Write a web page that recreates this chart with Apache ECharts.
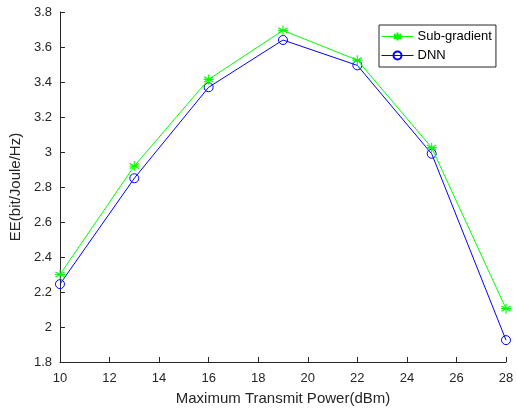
<!DOCTYPE html>
<html>
<head>
<meta charset="utf-8">
<script src="https://cdn.jsdelivr.net/npm/echarts@6/dist/echarts.min.js"></script>
<style>html,body{margin:0;padding:0;background:#fff}#c{width:517px;height:411px}</style>
</head>
<body>
<div id="c"></div>
<script>
const xValues = [10, 13, 16, 19, 22, 25, 28];
const subGradient = [2.30, 2.92, 3.415, 3.695, 3.525, 3.025, 2.105];
const dnn = [2.245, 2.85, 3.37, 3.64, 3.495, 2.99, 1.925];
const seriesNames = ['Sub-gradient', 'DNN'];
const xLabel = 'Maximum Transmit Power(dBm)';
const yLabel = 'EE(bit/Joule/Hz)';

const star = 'path://M0,-5L0,5M-4.6,-2.6L4.6,2.6M-4.6,2.6L4.6,-2.6M-5,0L5,0';
const font = 'Liberation Sans';
const axisColor = '#262626';

const chart = echarts.init(document.getElementById('c'), null, {renderer: 'canvas'});
chart.setOption({
  animation: false,
  textStyle: {fontFamily: font},
  grid: {left: 58, right: 11, top: 12, bottom: 48, containLabel: false},
  legend: {
    left: 379, top: 25, orient: 'vertical',
    padding: [5, 4, 5, 2],
    itemGap: 6,
    itemWidth: 32, itemHeight: 10,
    backgroundColor: '#fff',
    borderColor: axisColor, borderWidth: 1, borderRadius: 0,
    lineStyle: {width: 1},
    textStyle: {fontFamily: font, fontSize: 13, color: '#000', padding: [0, 0, 0, -1]},
    data: seriesNames
  },
  xAxis: {
    type: 'value', min: 10, max: 28, interval: 2,
    name: xLabel, nameLocation: 'middle', nameGap: 29,
    nameTextStyle: {fontFamily: font, fontSize: 15, color: axisColor},
    axisLine: {show: true, lineStyle: {color: axisColor, width: 1}},
    axisTick: {show: true, inside: true, length: 5, lineStyle: {color: axisColor}},
    axisLabel: {fontFamily: font, fontSize: 13, color: axisColor, margin: 10},
    splitLine: {show: false}
  },
  yAxis: {
    type: 'value', min: 1.8, max: 3.8, interval: 0.2,
    name: yLabel, nameLocation: 'middle', nameGap: 33,
    nameTextStyle: {fontFamily: font, fontSize: 15, color: axisColor},
    axisLine: {show: true, lineStyle: {color: axisColor, width: 1}},
    axisTick: {show: true, inside: true, length: 5, lineStyle: {color: axisColor}},
    axisLabel: {fontFamily: font, fontSize: 13, color: axisColor, margin: 8,
      formatter: v => String(Math.round(v * 10) / 10)},
    splitLine: {show: false}
  },
  series: [
    {
      name: seriesNames[0], type: 'line',
      data: xValues.map((x, i) => [x, subGradient[i]]),
      symbol: star, symbolSize: 10, showAllSymbol: true,
      lineStyle: {color: '#00ff00', width: 1},
      itemStyle: {color: 'rgba(0,0,0,0)', borderColor: '#00ff00', borderWidth: 1.1},
      z: 3
    },
    {
      name: seriesNames[1], type: 'line',
      data: xValues.map((x, i) => [x, dnn[i]]),
      symbol: 'circle', symbolSize: 9, showAllSymbol: true,
      lineStyle: {color: '#0000ff', width: 1},
      itemStyle: {color: 'rgba(0,0,0,0)', borderColor: '#0000ff', borderWidth: 1},
      z: 2
    }
  ]
});
</script>
</body>
</html>
